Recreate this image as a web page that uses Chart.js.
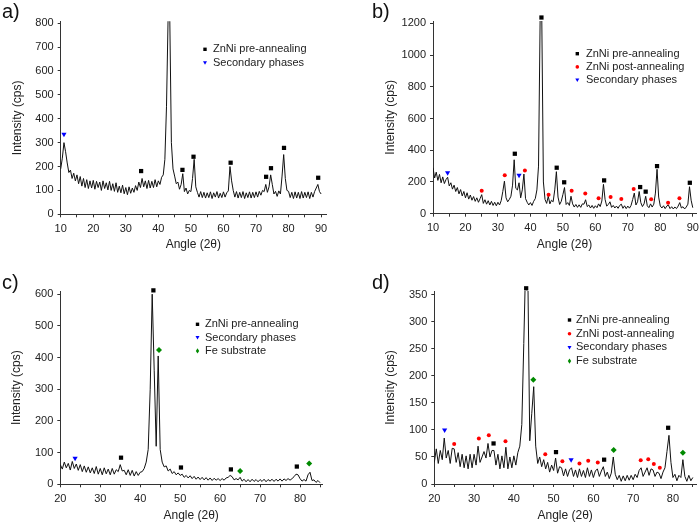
<!DOCTYPE html>
<html>
<head>
<meta charset="utf-8">
<script src="https://cdn.jsdelivr.net/npm/chart.js@4/dist/chart.umd.min.js"></script>
<style>
  body { margin: 0; background: #fff; }
  #fig { position: relative; width: 700px; height: 522px; font-family: "Liberation Sans", Arial, sans-serif; }
  .panel { position: absolute; width: 350px; height: 261px; }
  .tag { position: absolute; font-size: 20px; line-height: 20px; color: #111; }
</style>
</head>
<body>
<div id="fig">
  <div class="panel" style="left:0;top:0"><canvas id="chartA" width="350" height="261"></canvas></div>
  <div class="panel" style="left:350px;top:0"><canvas id="chartB" width="350" height="261"></canvas></div>
  <div class="panel" style="left:0;top:261px"><canvas id="chartC" width="350" height="261"></canvas></div>
  <div class="panel" style="left:350px;top:261px"><canvas id="chartD" width="350" height="261"></canvas></div>
  <div class="tag" style="left:2px;top:1px">a)</div>
  <div class="tag" style="left:372px;top:1px">b)</div>
  <div class="tag" style="left:2px;top:272px">c)</div>
  <div class="tag" style="left:372px;top:272px">d)</div>
</div>
<script>
// Sampling step of the digitised patterns (degrees 2-theta)
const STEP = 0.5;

// a) 10..90
const startA = 10;
const intensityA = [
  190, 235, 300, 262, 215, 175, 185, 150, 172, 140,
  165, 128, 158, 118, 150, 112, 145, 108, 140, 110,
  142, 105, 138, 112, 135, 100, 140, 108, 132, 102,
  138, 100, 128, 96, 132, 92, 118, 90, 122, 86,
  112, 82, 115, 88, 110, 92, 120, 100, 135, 112,
  150, 115, 140, 108, 142, 110, 138, 112, 145, 115,
  140, 125, 155, 165, 230, 450, 830, 830, 300, 190,
  160, 128, 135, 105, 125, 170, 95, 110, 85, 100,
  95, 150, 230, 115, 92, 72, 95, 70, 92, 68,
  90, 70, 94, 66, 90, 72, 95, 68, 88, 70,
  94, 72, 90, 98, 200, 140, 100, 72, 95, 68,
  92, 70, 95, 66, 90, 70, 94, 68, 92, 70,
  94, 72, 96, 80, 100, 95, 125, 92, 115, 165,
  125, 85, 96, 75, 98, 85, 160, 250, 150, 100,
  96, 70, 92, 66, 94, 68, 92, 66, 95, 68,
  92, 70, 94, 66, 92, 72, 95, 110, 125, 95,
  85
];
const preA = [[34.7, 181], [43.0, 828], [47.4, 186], [50.8, 241], [62.2, 216], [73.1, 157], [74.6, 193], [78.6, 278], [89.1, 153]];
const secA = [[11.0, 335]];

// b) 10..90
const startB = 10;
const intensityB = [
  290, 225, 262, 210, 248, 195, 232, 190, 215, 230,
  175, 195, 155, 180, 140, 165, 125, 152, 112, 140,
  100, 132, 92, 118, 85, 108, 78, 100, 72, 95,
  120, 65, 88, 60, 82, 55, 78, 52, 72, 50,
  72, 55, 82, 140, 205, 100, 75, 90, 110, 180,
  340, 160, 150, 195, 100, 150, 250, 95, 72, 55,
  70, 52, 78, 95, 150, 300, 1240, 1240, 200, 90,
  65, 110, 62, 85, 75, 150, 265, 105, 58, 78,
  120, 165, 58, 70, 52, 110, 62, 42, 58, 40,
  56, 40, 62, 60, 88, 45, 55, 36, 52, 34,
  50, 38, 62, 45, 80, 185, 90, 48, 58, 75,
  40, 52, 36, 48, 34, 52, 60, 34, 50, 32,
  48, 35, 52, 90, 130, 55, 75, 140, 70, 45,
  62, 110, 50, 38, 62, 42, 60, 130, 280, 105,
  48, 36, 50, 32, 48, 55, 32, 44, 30, 42,
  32, 48, 70, 36, 44, 30, 42, 60, 170, 85,
  38
];
const preB = [[35.2, 378], [43.4, 1237], [48.1, 290], [50.4, 198], [62.7, 210], [73.8, 168], [75.5, 139], [79.0, 300], [89.1, 195]];
const postB = [[25.0, 145], [32.1, 242], [38.3, 273], [45.6, 120], [52.7, 145], [56.9, 128], [61.0, 97], [64.7, 105], [68.0, 93], [71.8, 156], [77.2, 91], [82.4, 69], [85.9, 97]];
const secB = [[14.5, 258], [36.5, 242]];

// c) 20..85
const startC = 20;
const intensityC = [
  62, 48, 70, 52, 66, 45, 72, 50, 64, 44,
  62, 40, 58, 38, 55, 36, 52, 34, 56, 32,
  50, 30, 52, 33, 48, 30, 50, 32, 46, 40,
  62, 42, 44, 30, 46, 28, 44, 26, 40, 28,
  38, 40, 50, 70, 110, 300, 600, 360, 120, 405,
  110, 70, 55, 58, 42, 48, 34, 40, 30, 36,
  28, 32, 22, 28, 20, 27, 18, 25, 16, 23,
  15, 22, 14, 21, 13, 20, 12, 19, 13, 18,
  12, 18, 13, 20, 22, 28, 24, 14, 18, 14,
  22, 10, 16, 8, 15, 8, 16, 9, 15, 8,
  15, 9, 16, 8, 15, 10, 16, 9, 16, 10,
  17, 10, 17, 12, 18, 13, 18, 24, 32, 30,
  18, 10, 15, 10, 30, 38, 12, 14, 6, 12,
  5
];
const preC = [[35.2, 84], [43.3, 612], [50.2, 53], [62.7, 47], [79.2, 56]];
const secC = [[23.7, 82]];
const feC = [[44.7, 424], [65.0, 42], [82.3, 66]];

// d) 20..85
const startD = 20;
const intensityD = [
  40, 65, 38, 62, 45, 85, 48, 62, 38, 66,
  65, 40, 58, 32, 55, 30, 52, 28, 55, 30,
  55, 35, 70, 40, 50, 60, 48, 75, 50, 62,
  62, 35, 55, 28, 52, 30, 68, 28, 50, 30,
  52, 35, 58, 70, 110, 260, 420, 400, 80, 130,
  180, 70, 38, 50, 32, 45, 28, 40, 22, 35,
  25, 48, 20, 32, 30, 15, 28, 14, 26, 30,
  14, 26, 12, 28, 14, 25, 12, 30, 14, 26,
  12, 24, 28, 14, 24, 32, 14, 22, 10, 20,
  50, 18, 8, 16, 5, 15, 6, 16, 7, 16,
  8, 18, 12, 25, 30, 14, 22, 30, 16, 28,
  26, 14, 22, 20, 10, 22, 30, 60, 90, 40,
  12, 18, 6, 16, 12, 45, 14, 5, 16, 6,
  12
];
const preD = [[34.9, 75], [43.1, 362], [50.6, 59], [62.7, 45], [78.8, 104]];
const postD = [[25.0, 74], [31.2, 84], [33.7, 90], [37.9, 79], [47.9, 55], [52.2, 42], [56.5, 38], [58.7, 43], [61.1, 40], [71.9, 44], [73.8, 46], [75.2, 37], [76.7, 30]];
const secD = [[22.6, 100], [54.4, 45]];
const feD = [[44.9, 193], [65.1, 63], [82.5, 58]];

const TEXT = '#222';
const AXIS = '#333';
Chart.defaults.font.family = '"Liberation Sans", Arial, sans-serif';

const STYLES = {
  pre:  { label: 'ZnNi pre-annealing',  color: '#000000', shape: 'rect',     rot: 0,   r: 3 },
  post: { label: 'ZnNi post-annealing', color: '#ff0000', shape: 'circle',   rot: 0,   r: 2 },
  sec:  { label: 'Secondary phases',    color: '#0000ff', shape: 'triangle', rot: 180, r: 3 },
  fe:   { label: 'Fe substrate',        color: '#008a00', shape: 'rectRot',  rot: 0,   r: 3 }
};

// small legend markers drawn by hand
function drawMarker(ctx, key, x, y) {
  const s = STYLES[key];
  ctx.fillStyle = s.color;
  ctx.beginPath();
  if (key === 'pre') ctx.rect(x - 1.7, y - 1.7, 3.4, 3.4);
  else if (key === 'post') ctx.arc(x, y, 1.8, 0, Math.PI * 2);
  else if (key === 'sec') { ctx.moveTo(x - 2, y - 1.5); ctx.lineTo(x + 2, y - 1.5); ctx.lineTo(x, y + 2); ctx.closePath(); }
  else { ctx.moveTo(x, y - 2.6); ctx.lineTo(x + 1.7, y); ctx.lineTo(x, y + 2.6); ctx.lineTo(x - 1.7, y); ctx.closePath(); }
  ctx.fill();
}

const insetLegend = {
  id: 'insetLegend',
  afterDraw(chart, args, opts) {
    const ctx = chart.ctx;
    ctx.save();
    ctx.font = '11px "Liberation Sans", Arial, sans-serif';
    ctx.textBaseline = 'middle';
    opts.keys.forEach((key, i) => {
      const y = opts.y + i * opts.gap;
      drawMarker(ctx, key, opts.x, y);
      ctx.fillStyle = TEXT;
      ctx.fillText(STYLES[key].label, opts.textX, y);
    });
    ctx.restore();
  }
};

function makePanel(id, p) {
  const datasets = [{
    data: p.intensity.map((y, i) => ({ x: p.start + i * STEP, y })),
    borderColor: '#111',
    borderWidth: 1,
    pointRadius: 0,
    tension: 0,
    order: 1
  }];
  p.markers.forEach(([key, pts]) => {
    const s = STYLES[key];
    datasets.push({
      data: pts.map(([x, y]) => ({ x, y })),
      showLine: false,
      pointStyle: s.shape,
      pointRotation: s.rot,
      pointRadius: s.r,
      pointBackgroundColor: s.color,
      pointBorderColor: s.color,
      pointBorderWidth: 0,
      clip: false,
      order: 0
    });
  });

  new Chart(document.getElementById(id), {
    type: 'line',
    data: { datasets },
    plugins: [insetLegend],
    options: {
      responsive: false,
      animation: false,
      layout: { padding: { left: 0, right: p.padRight, top: p.padTop, bottom: p.padBottom } },
      plugins: {
        legend: { display: false },
        tooltip: { enabled: false },
        insetLegend: p.legend
      },
      scales: {
        x: {
          type: 'linear',
          min: p.xMin,
          max: p.xMax,
          afterFit: s => { s.height = p.xHeight; s.paddingLeft = 0; s.paddingRight = 0; },
          ticks: {
            stepSize: 5,
            includeBounds: false,
            autoSkip: false,
            maxRotation: 0,
            padding: 5,
            color: TEXT,
            font: { size: 11 },
            callback: v => (v % 10 === 0 ? v : '')
          },
          grid: { drawOnChartArea: false, drawTicks: true, tickLength: 3, color: AXIS },
          border: { color: AXIS, width: 1 },
          title: { display: true, text: 'Angle (2θ)', color: TEXT, font: { size: 12 }, padding: { top: 0, bottom: 0 } }
        },
        y: {
          min: 0,
          max: p.yMax,
          afterFit: s => { s.width = p.yWidth; s.paddingTop = 0; s.paddingBottom = 0; },
          ticks: {
            stepSize: p.yMinor,
            includeBounds: false,
            padding: 4,
            color: TEXT,
            font: { size: 11 },
            callback: v => (v % p.yMajor === 0 ? v : '')
          },
          grid: { drawOnChartArea: false, drawTicks: true, tickLength: 3, color: AXIS },
          border: { color: AXIS, width: 1 },
          title: { display: true, text: 'Intensity (cps)', color: TEXT, font: { size: 12 }, padding: { top: p.yTitlePad, bottom: 0 } }
        }
      }
    }
  });
}

makePanel('chartA', {
  start: startA, intensity: intensityA,
  markers: [['pre', preA], ['sec', secA]],
  xMin: 10, xMax: 91.5, yMax: 808, yMinor: 50, yMajor: 100,
  yWidth: 60.7, xHeight: 37.9, padTop: 21.3, padRight: 24, padBottom: 8.8, yTitlePad: 10,
  legend: { keys: ['pre', 'sec'], x: 205, textX: 213, y: 49.3, gap: 13.4 }
});

makePanel('chartB', {
  start: startB, intensity: intensityB,
  markers: [['pre', preB], ['post', postB], ['sec', secB]],
  xMin: 10, xMax: 91, yMax: 1215, yMinor: 100, yMajor: 200,
  yWidth: 83, xHeight: 38.5, padTop: 21, padRight: 3, padBottom: 8.8, yTitlePad: 33,
  legend: { keys: ['pre', 'post', 'sec'], x: 227.3, textX: 236, y: 53.7, gap: 13.2 }
});

makePanel('chartC', {
  start: startC, intensity: intensityC,
  markers: [['pre', preC], ['sec', secC], ['fe', feC]],
  xMin: 20, xMax: 85.5, yMax: 610, yMinor: 50, yMajor: 100,
  yWidth: 60.3, xHeight: 38.7, padTop: 30, padRight: 28, padBottom: -1, yTitlePad: 9,
  legend: { keys: ['pre', 'sec', 'fe'], x: 197.5, textX: 205, y: 63.3, gap: 13.3 }
});

makePanel('chartD', {
  start: startD, intensity: intensityD,
  markers: [['pre', preD], ['post', postD], ['sec', secD], ['fe', feD]],
  xMin: 20, xMax: 85.8, yMax: 357, yMinor: 25, yMajor: 50,
  yWidth: 84.3, xHeight: 39, padTop: 30, padRight: 2, padBottom: -1, yTitlePad: 33,
  legend: { keys: ['pre', 'post', 'sec', 'fe'], x: 219.5, textX: 226, y: 59, gap: 13.7 }
});
</script>
</body>
</html>
